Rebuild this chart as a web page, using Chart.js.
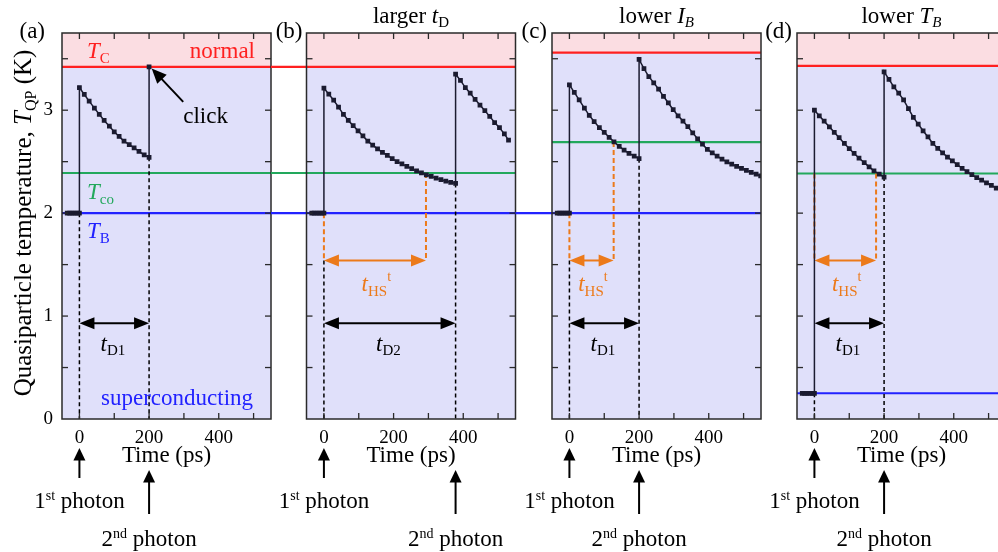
<!DOCTYPE html>
<html><head><meta charset="utf-8">
<script src="https://cdn.jsdelivr.net/npm/chart.js@4/dist/chart.umd.min.js"></script>
<style>
html,body{margin:0;padding:0;background:#fff;overflow:hidden;}
#wrap{position:relative;width:998px;height:552px;overflow:hidden;background:#fff;}
#wrap canvas{position:absolute;left:0;top:0;}
</style></head><body>
<div id="wrap">
<canvas id="c0" data-panel="0" width="1020" height="552"></canvas>
<canvas id="c1" data-panel="1" width="1020" height="552"></canvas>
<canvas id="c2" data-panel="2" width="1020" height="552"></canvas>
<canvas id="c3" data-panel="3" width="1020" height="552"></canvas>
</div>
<script>
// ---------------- data ----------------
const xTickValues = [0, 100, 200, 300, 400, 500];
const xTickLabels = [0, 200, 400];
const yTickValues = [0, 0.5, 1, 1.5, 2, 2.5, 3, 3.5];
const yTickLabels = [0, 1, 2, 3];
const panelTags = ['(a)', '(b)', '(c)', '(d)'];
const xTitle = 'Time (ps)';
const yTitle = ['Quasiparticle temperature, ', 'T', 'QP', ' (K)'];
const delayNames = ['D1', 'D2', 'D1', 'D1'];

// panel (a)
const timeA = [-35,-28,-21,-14,-7,0, 0,14,28,43,57,71,86,100,114,128,143,157,171,186,200, 200];
const tempA = [2,2,2,2,2,2, 3.22,3.153,3.088,3.02,2.96,2.90,2.845,2.79,2.745,2.70,2.665,2.635,2.60,2.565,2.542, 3.42];
// panel (b)
const timeB = [-35,-28,-21,-14,-7,0, 0,14,28,42,56,70,84,98,112,126,140,154,168,182,196,210,224,238,252,266,280,294,308,322,336,350,364,378, 378,392,406,420,434,448,462,476,490,504,518,530];
const tempB = [2,2,2,2,2,2, 3.214,3.156,3.097,3.03,2.96,2.90,2.85,2.80,2.75,2.70,2.66,2.625,2.59,2.56,2.53,2.50,2.478,2.454,2.432,2.41,2.39,2.372,2.356,2.34,2.325,2.31,2.30,2.288, 3.35,3.29,3.22,3.165,3.105,3.05,2.995,2.94,2.88,2.83,2.77,2.71];
// panel (c)
const timeC = [-35,-28,-21,-14,-7,0, 0,14,28,43,57,71,86,100,114,128,143,157,171,186,200, 200,214,228,242,256,270,284,298,312,326,340,354,368,382,396,410,424,438,452,466,480,494,508,522,536,549];
const tempC = [2,2,2,2,2,2, 3.247,3.173,3.10,3.02,2.95,2.89,2.83,2.785,2.737,2.692,2.648,2.612,2.58,2.555,2.529, 3.493,3.405,3.326,3.266,3.205,3.135,3.07,3.005,2.946,2.895,2.84,2.78,2.722,2.67,2.62,2.585,2.553,2.524,2.498,2.475,2.455,2.435,2.415,2.395,2.378,2.362];
// panel (d)
const timeD = [-35,-28,-21,-14,-7,0, 0,14,28,43,57,71,86,100,114,128,143,157,171,186,200, 200,214,228,242,256,270,284,298,312,326,340,354,368,382,396,410,424,438,452,466,480,494,508,522,536];
const tempD = [0.25,0.25,0.25,0.25,0.25,0.25, 3.0,2.945,2.893,2.838,2.785,2.733,2.677,2.627,2.58,2.535,2.49,2.45,2.41,2.378,2.35, 3.373,3.30,3.227,3.165,3.10,3.015,2.93,2.865,2.80,2.74,2.677,2.63,2.585,2.545,2.508,2.472,2.436,2.404,2.373,2.345,2.32,2.295,2.27,2.243,2.22];

const tcLevels  = [3.42, 3.42, 3.56, 3.43];
const tcoLevels = [2.39, 2.39, 2.69, 2.385];
const tbLevels  = [2, 2, 2, 0.25];
const secondPhotonTimes = [200, 378, 200, 200];
const hotspotTimes = [null, 293, 127, 177];

const times = [timeA, timeB, timeC, timeD];
const temps = [tempA, tempB, tempC, tempD];

// annotation levels (data units)
const orangeLevel = 1.54, delayLevel = 0.93, delayLabelLevel = 0.66, hsLabelLevel = 1.247;

// ---------------- style / layout ----------------
const FONT = 'Liberation Serif';
const PINK = '#fbdde2', LAV = '#e0e0fa', RED = '#ff2020', GREEN = '#22a85c', BLUE = '#2222ff',
      ORANGE = '#ec7a1a', CURVE = '#1b1b30', INK = '#000', FRAME = '#2a2a2a';
const layouts = [
  {padLeft: 0, yw: 62, padRight: 749},
  {padLeft: 306.5, yw: 0, padRight: 504.5},
  {padLeft: 552, yw: 0, padRight: 259},
  {padLeft: 797, yw: 0, padRight: 14}
];
const joins = [[], ['tc','tco','tb'], ['tb'], []];
const tagOffsets = [17, 4, 5, 5];
const panelTitles = [null,
  [['larger ',23,false,0],['t',23,true,0],['D',15,false,4]],
  [['lower ',23,false,0],['I',23,true,0],['B',15,true,4]],
  [['lower ',23,false,0],['T',23,true,0],['B',15,true,4]]];

function fnt(size, italic){ return (italic ? 'italic ' : '') + size + 'px "' + FONT + '"'; }
function seg(ctx,x0,y0,x1,y1,color,w,dash){
  ctx.save(); ctx.strokeStyle=color; ctx.lineWidth=w; ctx.setLineDash(dash||[]);
  ctx.beginPath(); ctx.moveTo(x0,y0); ctx.lineTo(x1,y1); ctx.stroke(); ctx.restore();
}
function head(ctx, xt, yt, xf, yf, len, hw, color){
  const ang = Math.atan2(yt-yf, xt-xf), c = Math.cos(ang), s = Math.sin(ang);
  ctx.save(); ctx.fillStyle=color; ctx.beginPath(); ctx.moveTo(xt,yt);
  ctx.lineTo(xt - len*c + hw*s, yt - len*s - hw*c);
  ctx.lineTo(xt - len*c - hw*s, yt - len*s + hw*c);
  ctx.closePath(); ctx.fill(); ctx.restore();
}
function arrow(ctx, xf, yf, xt, yt, color, w, len, hw){
  const ang = Math.atan2(yt-yf, xt-xf);
  seg(ctx, xf, yf, xt - (len-2)*Math.cos(ang), yt - (len-2)*Math.sin(ang), color, w);
  head(ctx, xt, yt, xf, yf, len, hw, color);
}
function dbl(ctx, x0, x1, y, color){
  seg(ctx, x0+10, y, x1-10, y, color, 2);
  head(ctx, x0, y, x1, y, 15, 6, color);
  head(ctx, x1, y, x0, y, 15, 6, color);
}
function rich(ctx, x, y, parts, color, align){
  ctx.save(); ctx.fillStyle=color; ctx.textBaseline='alphabetic'; ctx.textAlign='left';
  let w = 0;
  const ws = parts.map(p => { ctx.font = fnt(p[1], p[2]); const m = ctx.measureText(p[0]).width; w += m; return m; });
  let cx = align === 'center' ? x - w/2 : (align === 'right' ? x - w : x);
  parts.forEach((p,k) => { ctx.font = fnt(p[1], p[2]); ctx.fillText(p[0], cx, y + (p[3]||0)); cx += ws[k]; });
  ctx.restore();
}

const decor = {
  id: 'decor',
  beforeDatasetsDraw(chart){
    const i = +chart.canvas.dataset.panel;
    const ctx = chart.ctx, a = chart.chartArea, X = chart.scales.x, Y = chart.scales.y;
    const px = v => X.getPixelForValue(v), py = v => Y.getPixelForValue(v);
    const yTc = py(tcLevels[i]), yCo = py(tcoLevels[i]), yB = py(tbLevels[i]);
    ctx.save();
    ctx.fillStyle = PINK; ctx.fillRect(a.left, a.top, a.right - a.left, yTc - a.top);
    ctx.fillStyle = LAV; ctx.fillRect(a.left, yTc, a.right - a.left, a.bottom - yTc);
    const prevRight = i > 0 ? 1020 - layouts[i-1].padRight : a.left;
    const j = joins[i];
    seg(ctx, j.includes('tc') ? prevRight : a.left, yTc, a.right, yTc, RED, 2.2);
    seg(ctx, j.includes('tco') ? prevRight : a.left, yCo, a.right, yCo, GREEN, 2.2);
    seg(ctx, j.includes('tb') ? prevRight : a.left, yB, a.right, yB, BLUE, 2.2);

    const t = times[i], T = temps[i], jt = secondPhotonTimes[i], hs = hotspotTimes[i], tb = tbLevels[i];
    const k = t.findIndex((v, n) => v === jt && t[n+1] === jt);
    const yJump = py(T[k]);
    const blackTop = (hs !== null && tb > orangeLevel) ? orangeLevel : tb;
    seg(ctx, px(0), py(blackTop), px(0), a.bottom, INK, 1.5, [4,3]);
    seg(ctx, px(jt), yJump, px(jt), a.bottom, INK, 1.5, [4,3]);
    if (hs !== null) {
      const top0 = tb > orangeLevel ? tb : tcoLevels[i];
      seg(ctx, px(0), py(top0), px(0), py(orangeLevel), ORANGE, 2, [5,3]);
      seg(ctx, px(hs), yCo, px(hs), py(orangeLevel), ORANGE, 2, [5,3]);
      dbl(ctx, px(0), px(hs), py(orangeLevel), ORANGE);
    }
    dbl(ctx, px(0), px(jt), py(delayLevel), INK);
    ctx.restore();
  },
  afterDraw(chart){
    const i = +chart.canvas.dataset.panel;
    const ctx = chart.ctx, a = chart.chartArea, X = chart.scales.x, Y = chart.scales.y;
    const px = v => X.getPixelForValue(v), py = v => Y.getPixelForValue(v);
    ctx.save();
    ctx.strokeStyle = FRAME; ctx.lineWidth = 1.5;
    ctx.strokeRect(a.left, a.top, a.right - a.left, a.bottom - a.top);
    X.ticks.forEach(tk => {
      const p = px(tk.value);
      seg(ctx, p, a.bottom, p, a.bottom - 6, FRAME, 1.3);
      seg(ctx, p, a.top, p, a.top + 6, FRAME, 1.3);
    });
    Y.ticks.forEach(tk => {
      if (tk.value <= 0) return;
      const p = py(tk.value);
      seg(ctx, a.left, p, a.left + 6, p, FRAME, 1.3);
      seg(ctx, a.right, p, a.right - 6, p, FRAME, 1.3);
    });
    rich(ctx, a.left - tagOffsets[i], a.top + 4.5, [[panelTags[i], 23]], INK, 'right');
    if (panelTitles[i]) rich(ctx, (a.left + a.right)/2, a.top - 10.5, panelTitles[i], INK, 'center');

    const jt = secondPhotonTimes[i], hs = hotspotTimes[i];
    rich(ctx, px(jt/2 - 4), py(delayLabelLevel), [['t',23,true],[delayNames[i],15,false,4]], INK, 'center');
    if (hs !== null) rich(ctx, px(hs/2 + 4), py(hsLabelLevel), [['t',23,true],['HS',15,false,5],['t',14,false,-10]], ORANGE, 'center');

    arrow(ctx, px(0), a.bottom + 59, px(0), a.bottom + 29, INK, 2, 12.5, 6);
    rich(ctx, px(0), a.bottom + 89, [['1',23],['st',14,false,-8],[' photon',23]], INK, 'center');
    arrow(ctx, px(jt), a.bottom + 95, px(jt), a.bottom + 51, INK, 2, 12.5, 6);
    rich(ctx, px(jt), a.bottom + 127, [['2',23],['nd',14,false,-8],[' photon',23]], INK, 'center');

    if (i === 0) {
      rich(ctx, px(22), py(3.506), [['T',23,true],['C',15,false,4.5]], RED, 'left');
      rich(ctx, px(504), py(3.506), [['normal',23]], RED, 'right');
      rich(ctx, px(22), py(2.14), [['T',23,true],['co',15,false,5]], GREEN, 'left');
      rich(ctx, px(22), py(1.763), [['T',23,true],['B',15,false,5]], BLUE, 'left');
      rich(ctx, px(62), py(0.136), [['superconducting',23]], BLUE, 'left');
      rich(ctx, px(298), py(2.877), [['click',23]], INK, 'left');
      arrow(ctx, px(298), py(3.081), px(207.5), py(3.406), INK, 2, 15, 6.5);
      ctx.save();
      ctx.translate(a.left - 31, (a.top + a.bottom)/2 - 3);
      ctx.rotate(-Math.PI/2);
      rich(ctx, 0, 0, [[yTitle[0],25],[yTitle[1],25,true],[yTitle[2],16,false,5],[yTitle[3],25]], INK, 'center');
      ctx.restore();
    }
    ctx.restore();
  }
};

Chart.defaults.font.family = FONT;
const charts = [];
for (let i = 0; i < 4; i++) {
  const L = layouts[i];
  charts.push(new Chart(document.getElementById('c' + i), {
    type: 'scatter',
    data: { datasets: [{
      data: times[i].map((t, k) => ({x: t, y: temps[i][k]})),
      showLine: true, borderColor: CURVE, backgroundColor: CURVE, borderWidth: 1.5,
      pointStyle: 'rect', pointRadius: 2.3, pointHoverRadius: 2.3, tension: 0
    }]},
    options: {
      responsive: false, animation: false, devicePixelRatio: 1, events: [],
      layout: { padding: { left: L.padLeft, right: L.padRight, top: 33, bottom: 82 } },
      plugins: { legend: {display: false}, tooltip: {enabled: false} },
      scales: {
        x: { type: 'linear', min: -50, max: 550,
             grid: {display: false, drawTicks: false}, border: {display: false},
             afterBuildTicks: s => { s.ticks = xTickValues.map(v => ({value: v})); },
             ticks: { autoSkip: false, maxRotation: 0, padding: 8, color: INK,
                      font: {size: 19, family: FONT},
                      callback: v => xTickLabels.includes(v) ? String(v) : '' },
             title: { display: true, text: xTitle, color: INK, font: {size: 23, family: FONT}, padding: 0 },
             afterFit: s => { s.height = 51; } },
        y: { type: 'linear', min: 0, max: 3.75,
             grid: {display: false, drawTicks: false}, border: {display: false},
             afterBuildTicks: s => { s.ticks = yTickValues.map(v => ({value: v})); },
             ticks: { display: i === 0, autoSkip: false, padding: 9, color: INK,
                      font: {size: 19, family: FONT},
                      callback: v => yTickLabels.includes(v) ? String(v) : '' },
             afterFit: s => { s.width = L.yw; } }
      }
    },
    plugins: [decor]
  }));
}
</script>
</body></html>
